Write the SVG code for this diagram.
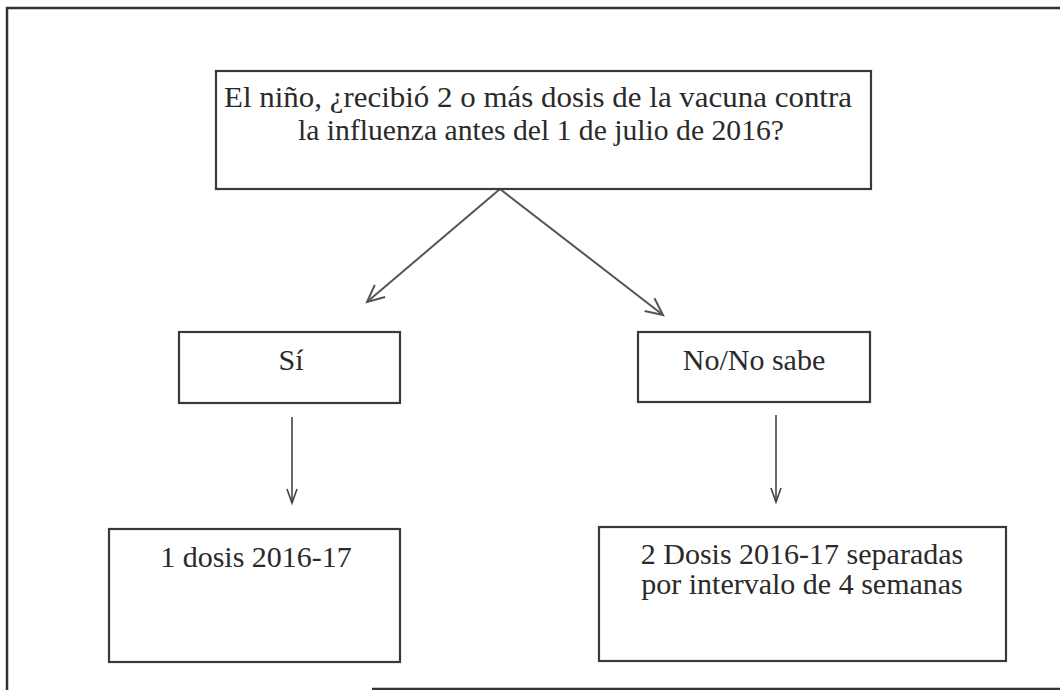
<svg xmlns="http://www.w3.org/2000/svg" width="1060" height="690" viewBox="0 0 1060 690">
  <defs>
    <marker id="headBig" markerUnits="userSpaceOnUse" markerWidth="24" markerHeight="24" viewBox="-20 -12 24 24" refX="0" refY="0" orient="auto">
      <path d="M-17,-8 L0,0 L-17,8" fill="none" stroke="#555" stroke-width="2"/>
    </marker>
    <marker id="headSmall" markerUnits="userSpaceOnUse" markerWidth="20" markerHeight="20" viewBox="-16 -10 20 20" refX="0" refY="0" orient="auto">
      <path d="M-14,-5 L0,0 L-14,5" fill="none" stroke="#444" stroke-width="1.6"/>
    </marker>
    <style>
      .frame { fill: none; stroke: #333; stroke-width: 2.5; }
      .box { fill: #fff; stroke: #3a3a3a; stroke-width: 2.2; }
      .txt { font-family: "Liberation Serif", "Times New Roman", serif; font-size: 30px; fill: #2a2a2a; text-anchor: middle; }
      .q { font-size: 29px; }
      .diag { fill: none; stroke: #555; stroke-width: 2; marker-end: url(#headBig); }
      .vert { fill: none; stroke: #444; stroke-width: 1.6; marker-end: url(#headSmall); }
    </style>
  </defs>
  <rect width="1060" height="690" fill="#fff"/>
  <g id="frame">
    <path class="frame" d="M7,690 L7,8 L1060,8"/>
    <path class="frame" d="M372,689 L1060,689"/>
  </g>
  <g id="connectors">
    <line class="diag" x1="500" y1="189" x2="367" y2="302"/>
    <line class="diag" x1="500" y1="189" x2="663" y2="315"/>
    <line class="vert" x1="292" y1="417" x2="292" y2="503"/>
    <line class="vert" x1="776" y1="415" x2="776" y2="502"/>
  </g>
  <g id="question">
    <rect class="box" x="216" y="71" width="655" height="118"/>
    <text class="txt q" x="538" y="107" textLength="628" lengthAdjust="spacingAndGlyphs">El niño, ¿recibió 2 o más dosis de la vacuna contra</text>
    <text class="txt q" x="541" y="140" textLength="486" lengthAdjust="spacingAndGlyphs">la influenza antes del 1 de julio de 2016?</text>
  </g>
  <g id="si">
    <rect class="box" x="179" y="332" width="221" height="71"/>
    <text class="txt" x="291" y="370">Sí</text>
  </g>
  <g id="nosabe">
    <rect class="box" x="638" y="332" width="232" height="70"/>
    <text class="txt" x="754" y="370">No/No sabe</text>
  </g>
  <g id="unadosis">
    <rect class="box" x="109" y="529" width="291" height="133"/>
    <text class="txt" x="256" y="567">1 dosis 2016-17</text>
  </g>
  <g id="dosdosis">
    <rect class="box" x="599" y="527" width="407" height="134"/>
    <text class="txt" x="802" y="564">2 Dosis 2016-17 separadas</text>
    <text class="txt" x="802" y="594">por intervalo de 4 semanas</text>
  </g>
</svg>
